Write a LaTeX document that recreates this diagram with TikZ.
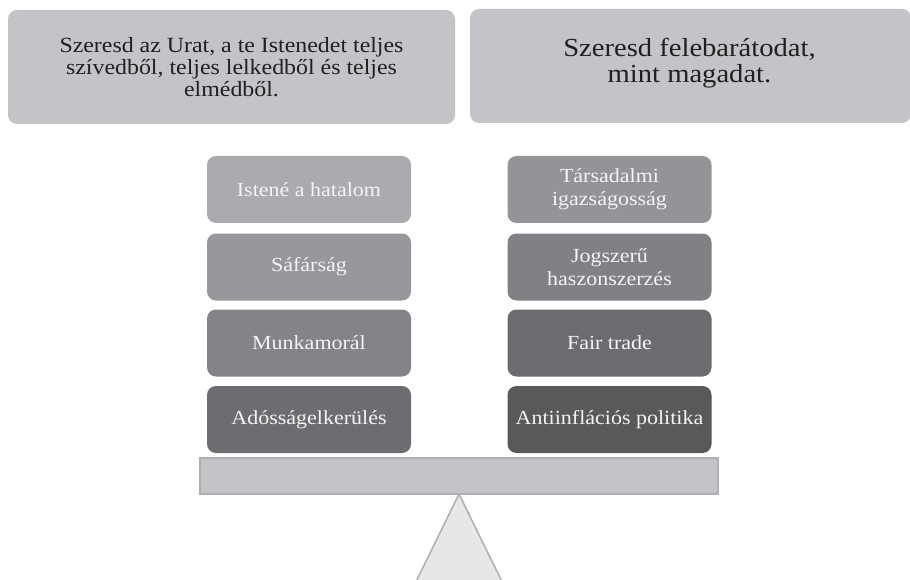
\documentclass[tikz,border=0pt]{standalone}
\usepackage{fontspec}
\setmainfont{Liberation Serif}[FakeStretch=1.1]
\definecolor{topfill}{HTML}{C3C4C7}
\definecolor{txtdark}{HTML}{231F20}
\definecolor{boxtxt}{HTML}{F4F4F4}
\definecolor{lA}{HTML}{AAABAE}
\definecolor{lB}{HTML}{97989B}
\definecolor{lC}{HTML}{838487}
\definecolor{lD}{HTML}{6C6D70}
\definecolor{rA}{HTML}{939497}
\definecolor{rB}{HTML}{808184}
\definecolor{rC}{HTML}{6B6C6F}
\definecolor{rD}{HTML}{58595B}
\definecolor{beamfill}{HTML}{C3C4C7}
\definecolor{beamline}{HTML}{AEAFB1}
\definecolor{trifill}{HTML}{E6E7E8}
\begin{document}
\begin{tikzpicture}[x=1pt,y=-1pt,
  topbox/.style={fill=topfill, rounded corners=9pt, text=txtdark, align=center, inner sep=0pt, minimum height=114pt},
  valbox/.style={rounded corners=9pt, text=boxtxt, align=center, inner sep=0pt, minimum width=204pt, minimum height=67pt, font=\fontsize{20}{23}\selectfont}
]
\useasboundingbox (0,0) rectangle (910,580);
\clip (0,0) rectangle (910,580);
\fill[white] (0,0) rectangle (910,580);

\node[topbox, minimum width=447pt, font=\fontsize{21.7}{21.8}\selectfont] (love1) at (231.5,67)
  {Szeresd az Urat, a te Istenedet teljes\\ szívedből, teljes lelkedből és teljes\\ elmédből.};
\node[topbox, minimum width=441pt] (love2) at (690.5,66) {};
\node[text=txtdark, align=center, inner sep=0pt, font=\fontsize{26}{25.5}\selectfont] (love2t) at (689.5,63)
  {Szeresd felebarátodat,\\ mint magadat.};

\node[valbox, fill=lA] (l1) at (309,189.5) {Istené a hatalom};
\node[valbox, fill=lB] (l2) at (309,267) {Sáfárság};
\node[valbox, fill=lC] (l3) at (309,343) {Munkamorál};
\node[valbox, fill=lD] (l4) at (309,419.5) {Adósságelkerülés};

\node[valbox, fill=rA] (r1) at (609.5,189.5) {Társadalmi\\ igazságosság};
\node[valbox, fill=rB] (r2) at (609.5,267) {Jogszerű\\ haszonszerzés};
\node[valbox, fill=rC] (r3) at (609.5,343) {Fair trade};
\node[valbox, fill=rD] (r4) at (609.5,419.5) {Antiinflációs politika};

\draw[fill=trifill, draw=beamline, line width=1.5pt, line join=miter] (459,494) -- (406,602) -- (512,602) -- cycle;
\node[fill=beamfill, draw=beamline, line width=1.5pt, minimum width=518pt, minimum height=36pt, inner sep=0pt] (beam) at (459,476) {};
\end{tikzpicture}
\end{document}
